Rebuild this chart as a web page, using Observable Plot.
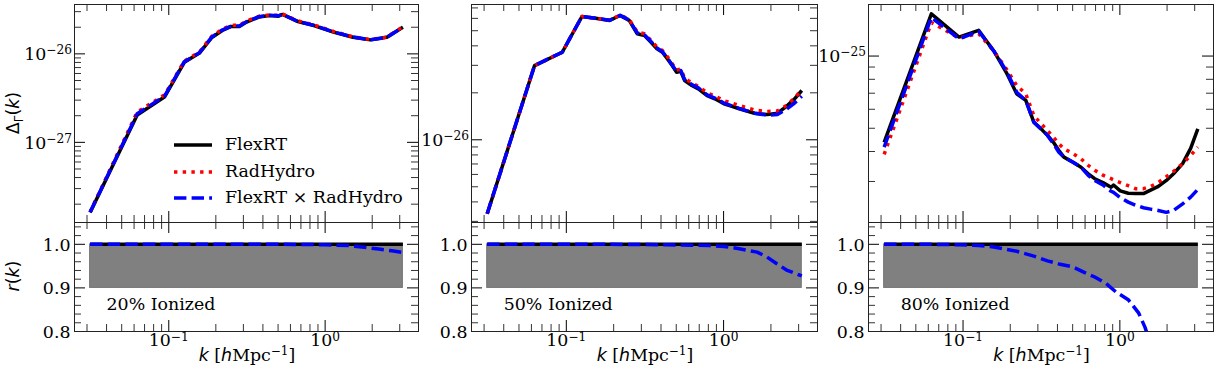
<!DOCTYPE html>
<html><head><meta charset="utf-8">
<script src="https://cdn.jsdelivr.net/npm/d3@7"></script>
<script src="https://cdn.jsdelivr.net/npm/@observablehq/plot@0.6"></script>
<style>
html,body{margin:0;padding:0;background:#fff;}
#fig{position:relative;width:1218px;height:377px;overflow:hidden;background:#fff;font-family:"DejaVu Serif",serif;color:#000;}
#fig svg{position:absolute;left:0;top:0;overflow:visible;}
.lab{position:absolute;white-space:nowrap;font-size:17.4px;line-height:20px;}
.m{font-family:"DejaVu Sans",sans-serif;font-style:italic;}
.s{font-family:"DejaVu Sans",sans-serif;}
.sup{font-size:12px;line-height:0;vertical-align:6px;}
.sub{font-size:12px;line-height:0;vertical-align:-4px;}
</style></head><body><div id="fig"></div>
<script>
// ---------------- DATA ----------------
// wavenumbers k [h/Mpc] of the sampled points, per panel
const kP1 = [0.0314,0.0628,0.0942,0.1257,0.1571,0.1885,0.2199,0.2513,0.2827,0.3142,0.3770,0.4398,0.5027,0.5341,0.6597,0.8482,1.1310,1.5080,1.9478,2.4819,3.1416];
const flexP1 = [1.61e-28,2.04e-27,3.28e-27,8.03e-27,1.02e-26,1.53e-26,1.84e-26,2.04e-26,2.04e-26,2.29e-26,2.61e-26,2.71e-26,2.67e-26,2.79e-26,2.34e-26,2.09e-26,1.76e-26,1.54e-26,1.44e-26,1.54e-26,2.00e-26];
const radP1 = [1.63e-28,2.20e-27,3.45e-27,8.30e-27,1.05e-26,1.58e-26,1.90e-26,2.10e-26,2.10e-26,2.35e-26,2.66e-26,2.76e-26,2.72e-26,2.82e-26,2.38e-26,2.12e-26,1.79e-26,1.56e-26,1.45e-26,1.55e-26,2.02e-26];
const crossP1 = [1.62e-28,2.10e-27,3.35e-27,8.15e-27,1.03e-26,1.55e-26,1.86e-26,2.06e-26,2.06e-26,2.31e-26,2.63e-26,2.73e-26,2.69e-26,2.80e-26,2.35e-26,2.10e-26,1.77e-26,1.55e-26,1.44e-26,1.54e-26,2.00e-26];

const kP2 = [0.0314,0.0628,0.0942,0.1257,0.1571,0.1885,0.2199,0.2513,0.2827,0.3142,0.3456,0.3770,0.4084,0.4398,0.4712,0.5027,0.5341,0.5655,0.6283,0.6912,0.7854,0.8796,1.0053,1.1310,1.2566,1.5708,1.8850,2.1991,2.5133,2.8274,3.1416];
const flexP2 = [3.36e-27,2.99e-26,3.64e-26,6.17e-26,5.99e-26,5.82e-26,6.26e-26,5.82e-26,4.78e-26,4.66e-26,4.22e-26,3.83e-26,3.64e-26,3.30e-26,2.99e-26,2.71e-26,2.75e-26,2.40e-26,2.23e-26,2.12e-26,1.92e-26,1.83e-26,1.70e-26,1.64e-26,1.58e-26,1.48e-26,1.45e-26,1.48e-26,1.64e-26,1.83e-26,2.07e-26];
const radP2 = [3.36e-27,2.99e-26,3.64e-26,6.17e-26,5.99e-26,5.85e-26,6.30e-26,5.90e-26,4.90e-26,4.78e-26,4.33e-26,3.93e-26,3.73e-26,3.40e-26,3.07e-26,2.80e-26,2.84e-26,2.48e-26,2.31e-26,2.20e-26,2.00e-26,1.91e-26,1.78e-26,1.72e-26,1.66e-26,1.55e-26,1.52e-26,1.53e-26,1.66e-26,1.85e-26,2.10e-26];
const crossP2 = [3.36e-27,2.99e-26,3.64e-26,6.17e-26,5.99e-26,5.83e-26,6.27e-26,5.85e-26,4.83e-26,4.70e-26,4.26e-26,3.87e-26,3.67e-26,3.33e-26,3.02e-26,2.74e-26,2.78e-26,2.43e-26,2.26e-26,2.15e-26,1.94e-26,1.85e-26,1.72e-26,1.65e-26,1.59e-26,1.48e-26,1.44e-26,1.45e-26,1.57e-26,1.72e-26,1.90e-26];

const kP3 = [0.0314,0.0628,0.0942,0.1257,0.1571,0.1885,0.2199,0.2513,0.2827,0.3142,0.3456,0.3770,0.4084,0.4398,0.5027,0.5655,0.6283,0.6912,0.7854,0.8796,0.9111,1.0053,1.1310,1.2566,1.4137,1.5708,1.7593,1.9792,2.1991,2.5133,2.8274,3.1416];
const flexP3 = [4.37e-26,1.50e-25,1.20e-25,1.28e-25,1.05e-25,8.56e-26,6.96e-26,6.53e-26,5.30e-26,4.97e-26,4.67e-26,4.37e-26,4.04e-26,3.79e-26,3.61e-26,3.44e-26,3.23e-26,3.08e-26,2.96e-26,2.84e-26,2.90e-26,2.74e-26,2.68e-26,2.67e-26,2.67e-26,2.76e-26,2.86e-26,3.03e-26,3.23e-26,3.56e-26,4.12e-26,4.97e-26];
const radP3 = [3.89e-26,1.38e-25,1.19e-25,1.24e-25,1.05e-25,8.85e-26,7.54e-26,6.96e-26,5.65e-26,5.22e-26,4.89e-26,4.59e-26,4.31e-26,4.11e-26,3.92e-26,3.73e-26,3.50e-26,3.34e-26,3.18e-26,3.08e-26,3.05e-26,2.97e-26,2.88e-26,2.80e-26,2.80e-26,2.86e-26,2.97e-26,3.14e-26,3.30e-26,3.56e-26,3.85e-26,4.17e-26];
const crossP3 = [4.17e-26,1.45e-25,1.18e-25,1.27e-25,1.05e-25,8.70e-26,7.07e-26,6.53e-26,5.30e-26,4.97e-26,4.67e-26,4.31e-26,3.97e-26,3.79e-26,3.61e-26,3.44e-26,3.18e-26,3.03e-26,2.89e-26,2.73e-26,2.70e-26,2.57e-26,2.46e-26,2.39e-26,2.33e-26,2.30e-26,2.27e-26,2.23e-26,2.27e-26,2.42e-26,2.58e-26,2.78e-26];

// cross-correlation coefficient r(k)
const kR1 = [0.0314,0.3142,0.6283,1.0053,1.4137,1.7907,2.1991,2.6704,3.1416];
const rR1 = [1.000,1.000,0.9998,0.999,0.997,0.993,0.989,0.985,0.981];
const kR2 = [0.0314,0.1571,0.3142,0.4398,0.6283,0.8168,1.0053,1.2566,1.6336,1.8850,2.1677,2.5133,2.8274,3.1416];
const rR2 = [1.000,1.000,0.9995,0.999,0.998,0.997,0.995,0.990,0.982,0.971,0.956,0.941,0.934,0.9275];
const kR3 = [0.0314,0.0628,0.0942,0.1257,0.1571,0.2199,0.2827,0.3456,0.4084,0.5027,0.5969,0.6912,0.8168,0.9425,1.1310,1.3195,1.4451,1.4765];
const rR3 = [1.000,1.000,0.999,0.997,0.994,0.984,0.973,0.962,0.955,0.948,0.935,0.925,0.910,0.891,0.873,0.842,0.810,0.800];
// FlexRT auto-correlation (r = 1) and the shaded 0.9–1.0 band
const kAuto = [0.0314,3.1416];
const rAuto = [1.0,1.0];
const rBand = [0.9,1.0];

const seriesNames = ["FlexRT","RadHydro","FlexRT × RadHydro"];
const ionLabels = ["20% Ionized","50% Ionized","80% Ionized"];
const xMajorLabels = [{k:0.1, exp:"−1"},{k:1, exp:"0"}];
const rMajor = [0.8,0.9,1.0];
const rMinor = [0.82,0.84,0.86,0.88,0.92,0.94,0.96,0.98,1.02,1.04];
const rLabels = ["0.8","0.9","1.0"];

// ---------------- LAYOUT ----------------
const W = 1218, H = 377;
const FS = 17.4, FSS = 12.2;
const frames = [{L:74,R:418},{L:471,R:817},{L:868,R:1213}];
const topT = 4, midY = 222, botB = 331;
const xDomain = [10 ** -1.6029, 10 ** 0.5971];
const yDomTop = [[10 ** -27.906, 10 ** -25.442],[10 ** -26.530, 10 ** -25.133],[10 ** -25.694, 10 ** -24.785]];
const rDomain = [0.8, 1.05];
const LW = 3.5;
const styles = [
  {stroke:"#000000", strokeWidth:LW},
  {stroke:"#ff0000", strokeWidth:LW, strokeDasharray:"3.4,5.3"},
  {stroke:"#0000ff", strokeWidth:LW, strokeDasharray:"12.4,5.2"}
];
const topSeries = [
  {k:kP1, s:[flexP1,radP1,crossP1]},
  {k:kP2, s:[flexP2,radP2,crossP2]},
  {k:kP3, s:[flexP3,radP3,crossP3]}
];
const rSeries = [{k:kR1,r:rR1},{k:kR2,r:rR2},{k:kR3,r:rR3}];

const ctx = document.createElement("canvas").getContext("2d");
function tw(s, size){ ctx.font = `${size}px "DejaVu Serif"`; return ctx.measureText(s).width; }

function logTicks(d0, d1){
  const maj = [], min = [];
  for (let e = Math.floor(Math.log10(d0)); e <= Math.ceil(Math.log10(d1)); e++)
    for (let m = 1; m <= 9; m++){ const v = +(m * 10 ** e).toPrecision(6); if (v >= d0 && v <= d1) (m === 1 ? maj : min).push(v); }
  return {maj, min};
}
const xt = logTicks(...xDomain);

function tickMarks(xMaj, xMin, yMaj, yMin, fw, fh){
  const M = 11, m = 7;
  const a = {stroke:"#000", strokeWidth:1}, b = {stroke:"#333", strokeWidth:1};
  return [
    Plot.ruleX(xMaj, {x:d=>d, insetTop:fh-M, ...a}),
    Plot.ruleX(xMaj, {x:d=>d, insetBottom:fh-M, ...a}),
    Plot.ruleX(xMin, {x:d=>d, insetTop:fh-m, ...b}),
    Plot.ruleX(xMin, {x:d=>d, insetBottom:fh-m, ...b}),
    Plot.ruleY(yMaj, {y:d=>d, insetRight:fw-M, ...a}),
    Plot.ruleY(yMaj, {y:d=>d, insetLeft:fw-M, ...a}),
    Plot.ruleY(yMin, {y:d=>d, insetRight:fw-m, ...b}),
    Plot.ruleY(yMin, {y:d=>d, insetLeft:fw-m, ...b})
  ];
}

const fig = document.getElementById("fig");
const baseStyle = {background:"transparent", fontFamily:"DejaVu Serif", fontSize:FS + "px", overflow:"visible"};

frames.forEach((f, i) => {
  const fw = f.R - f.L;
  // ---- top panel ----
  const ts = topSeries[i];
  const yt = logTicks(...yDomTop[i]);
  const yLabs = yt.maj.map(v => ({v, exp: "−" + Math.abs(Math.round(Math.log10(v)))}));
  const supW = d3.max(yLabs, d => tw(d.exp, FSS));
  const topMarks = [];
  ts.s.forEach((ys, j) => {
    topMarks.push(Plot.line(ts.k.map((k, n) => ({k, v: ys[n]})), {x:"k", y:"v", ...styles[j], strokeLinecap:"butt", strokeLinejoin:"round", clip:true}));
  });
  topMarks.push(...tickMarks(xt.maj, xt.min, yt.maj, yt.min, fw, midY - topT));
  topMarks.push(Plot.frame({stroke:"#222", strokeWidth:1}));
  topMarks.push(Plot.text(yLabs, {y:"v", text:()=>"10", frameAnchor:"left", textAnchor:"end", lineAnchor:"middle", dx:-(2.5 + supW), dy:0.8, fontSize:FS}));
  topMarks.push(Plot.text(yLabs, {y:"v", text:"exp", frameAnchor:"left", textAnchor:"end", lineAnchor:"middle", dx:-2.5, dy:-3.6, fontSize:FSS}));
  fig.appendChild(Plot.plot({
    width:W, height:H, marginLeft:f.L, marginRight:W - f.R, marginTop:topT, marginBottom:H - midY,
    x:{type:"log", domain:xDomain, axis:null},
    y:{type:"log", domain:yDomTop[i], axis:null},
    style:baseStyle, marks:topMarks
  }));

  // ---- bottom panel ----
  const rs = rSeries[i];
  const band = [{k1:kAuto[0], k2:kAuto[1], r1:rBand[0], r2:rBand[1]}];
  const botMarks = [
    Plot.rect(band, {x1:"k1", x2:"k2", y1:"r1", y2:"r2", fill:"#808080", stroke:"#747474", strokeWidth:1}),
    Plot.line(kAuto.map((k, n) => ({k, r: rAuto[n]})), {x:"k", y:"r", ...styles[0], strokeLinecap:"butt"}),
    Plot.line(rs.k.map((k, n) => ({k, r: rs.r[n]})), {x:"k", y:"r", ...styles[2], strokeLinecap:"butt", strokeLinejoin:"round", clip:true}),
    ...tickMarks(xt.maj, xt.min, rMajor, rMinor, fw, botB - midY),
    Plot.frame({stroke:"#222", strokeWidth:1}),
    Plot.text(rMajor.map((v, n) => ({v, t: rLabels[n]})), {y:"v", text:"t", frameAnchor:"left", textAnchor:"end", lineAnchor:"middle", dx:-4, dy:0.8, fontSize:FS}),
    Plot.text([ionLabels[i]], {x:()=>0.04, y:()=>0.861, text:d=>d, textAnchor:"start", lineAnchor:"middle", fontSize:FS})
  ];
  xMajorLabels.forEach(lab => {
    const w10 = tw("10", FS), ws = tw(lab.exp, FSS), off = w10 - (w10 + ws) / 2;
    botMarks.push(Plot.text([lab], {x:"k", text:()=>"10", frameAnchor:"bottom", textAnchor:"end", lineAnchor:"bottom", dx:off, dy:14.9, fontSize:FS}));
    botMarks.push(Plot.text([lab], {x:"k", text:"exp", frameAnchor:"bottom", textAnchor:"start", lineAnchor:"bottom", dx:off, dy:9, fontSize:FSS}));
  });
  fig.appendChild(Plot.plot({
    width:W, height:H, marginLeft:f.L, marginRight:W - f.R, marginTop:midY, marginBottom:H - botB,
    x:{type:"log", domain:xDomain, axis:null},
    y:{type:"linear", domain:rDomain, axis:null},
    style:baseStyle, marks:botMarks
  }));

  // x-axis label
  const xl = document.createElement("div");
  xl.className = "lab";
  xl.style.left = ((f.L + f.R) / 2 + 1) + "px";
  xl.style.top = (361.5 - 16.2) + "px";
  xl.style.transform = "translateX(-50%)";
  xl.innerHTML = '<span class="m">k</span> [<span class="m">h</span>Mpc<span class="sup">−1</span>]';
  fig.appendChild(xl);
});

// y-axis labels
function rotLabel(html, cx, cy){
  const d = document.createElement("div");
  d.className = "lab";
  d.style.left = cx + "px"; d.style.top = cy + "px";
  d.style.transform = "translate(-50%,-50%) rotate(-90deg)";
  d.innerHTML = html;
  fig.appendChild(d);
}
rotLabel('<span class="s">Δ<span class="sub">Γ</span>(</span><span class="m">k</span><span class="s">)</span>', 12.5, 113);
rotLabel('<span class="m">r</span><span class="s">(</span><span class="m">k</span><span class="s">)</span>', 12.5, 276);

// legend (inside first top panel)
const legRows = [145, 171.5, 198];
seriesNames.forEach((name, j) => {
  const y = legRows[j];
  const s = d3.create("svg").attr("width", 40).attr("height", 10)
    .style("left", "173px").style("top", (y - 5) + "px");
  s.append("line").attr("x1", 1).attr("x2", 39).attr("y1", 5).attr("y2", 5)
    .attr("stroke", styles[j].stroke).attr("stroke-width", LW)
    .attr("stroke-dasharray", styles[j].strokeDasharray || null);
  fig.appendChild(s.node());
  const t = document.createElement("div");
  t.className = "lab";
  t.style.left = "225px"; t.style.top = (y + 5.5 - 16.2) + "px";
  t.textContent = name;
  fig.appendChild(t);
});
</script></body></html>
